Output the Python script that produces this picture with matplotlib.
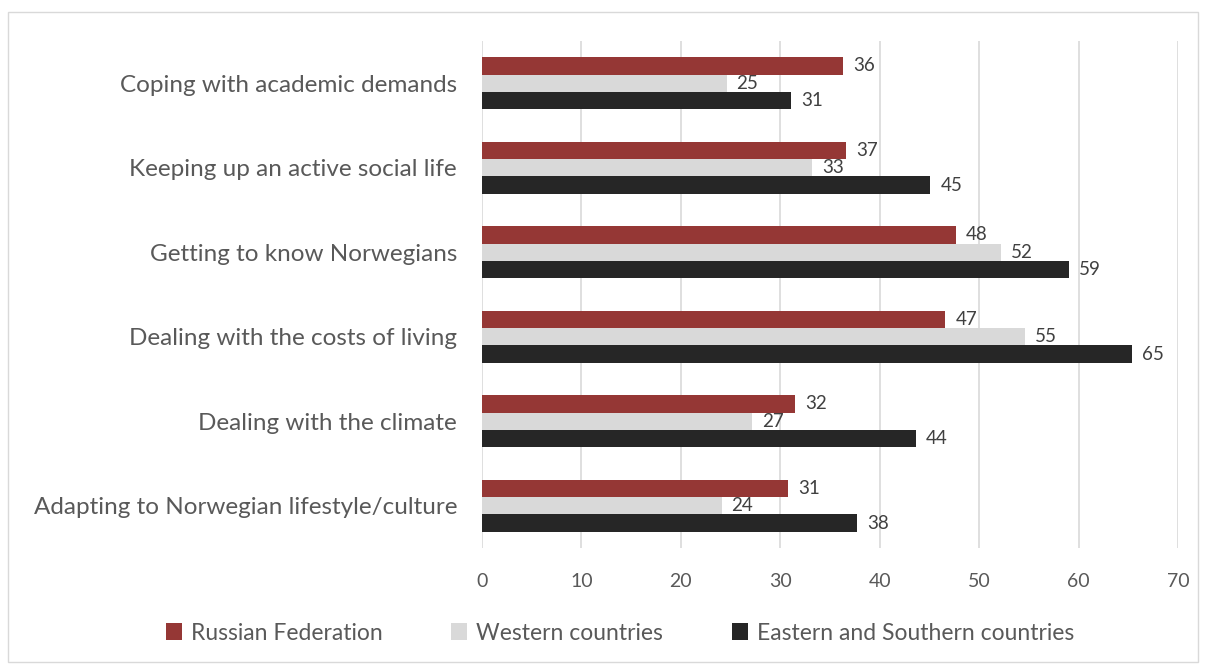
import matplotlib
matplotlib.use("Agg")
import matplotlib.pyplot as plt
import numpy as np
from matplotlib.patches import Rectangle

categories = ["Coping with academic demands", "Keeping up an active social life",
              "Getting to know Norwegians", "Dealing with the costs of living",
              "Dealing with the climate", "Adapting to Norwegian lifestyle/culture"]
series_names = ["Russian Federation", "Western countries", "Eastern and Southern countries"]
russian = [36.3, 36.6, 47.7, 46.6, 31.5, 30.8]
western = [24.6, 33.2, 52.2, 54.6, 27.2, 24.1]
eastern = [31.1, 45.1, 59.0, 65.4, 43.6, 37.7]
colors = ["#953735", "#D9D9D9", "#262626"]
xticks = [0, 10, 20, 30, 40, 50, 60, 70]

plt.rcParams['font.family'] = ['Lato', 'DejaVu Sans']
txt = "#595959"

fig = plt.figure(figsize=(12.09, 6.68), dpi=100)
W, H = 1209, 668
ax = fig.add_axes([482 / W, 1 - 548 / H, (1178 - 482) / W, (548 - 41) / H])

n = len(categories)
y = np.arange(n)
bh = 0.205
offsets = [-bh, 0, bh]
handles = []
for vals, off, c, name in zip([russian, western, eastern], offsets, colors, series_names):
    b = ax.barh(y + off, vals, height=bh, color=c, label=name, zorder=3)
    handles.append(b)
    for yi, v in zip(y, vals):
        ax.text(v + 1.0, yi + off, f"{v:.0f}", va="center", ha="left", fontsize=13.5, color="#404040")

ax.set_ylim(n - 0.5, -0.5)
ax.set_xlim(0, 70)
ax.set_xticks(xticks)
ax.set_xticklabels([str(t) for t in xticks], fontsize=14, color=txt)
ax.set_yticks(y)
ax.set_yticklabels(categories, fontsize=17.5, color=txt)
ax.tick_params(axis='both', length=0)
ax.tick_params(axis='x', pad=18)
ax.tick_params(axis='y', pad=18)
ax.grid(axis='x', color="#D9D9D9", linewidth=1.2, zorder=0)
for s in ax.spines.values():
    s.set_visible(False)

fig.legend(handles=handles, labels=series_names, loc="center", bbox_to_anchor=(620 / W, 1 - 633 / H),
           ncol=3, frameon=False, fontsize=16.5, labelcolor=txt, handlelength=0.7, handleheight=0.7,
           columnspacing=3.0, handletextpad=0.4)

fig.add_artist(Rectangle((8 / W, 1 - 662 / H), (1198 - 8) / W, (662 - 12) / H, transform=fig.transFigure,
                         fill=False, edgecolor="#D9D9D9", linewidth=1))

fig.savefig("out.png", dpi=100)
